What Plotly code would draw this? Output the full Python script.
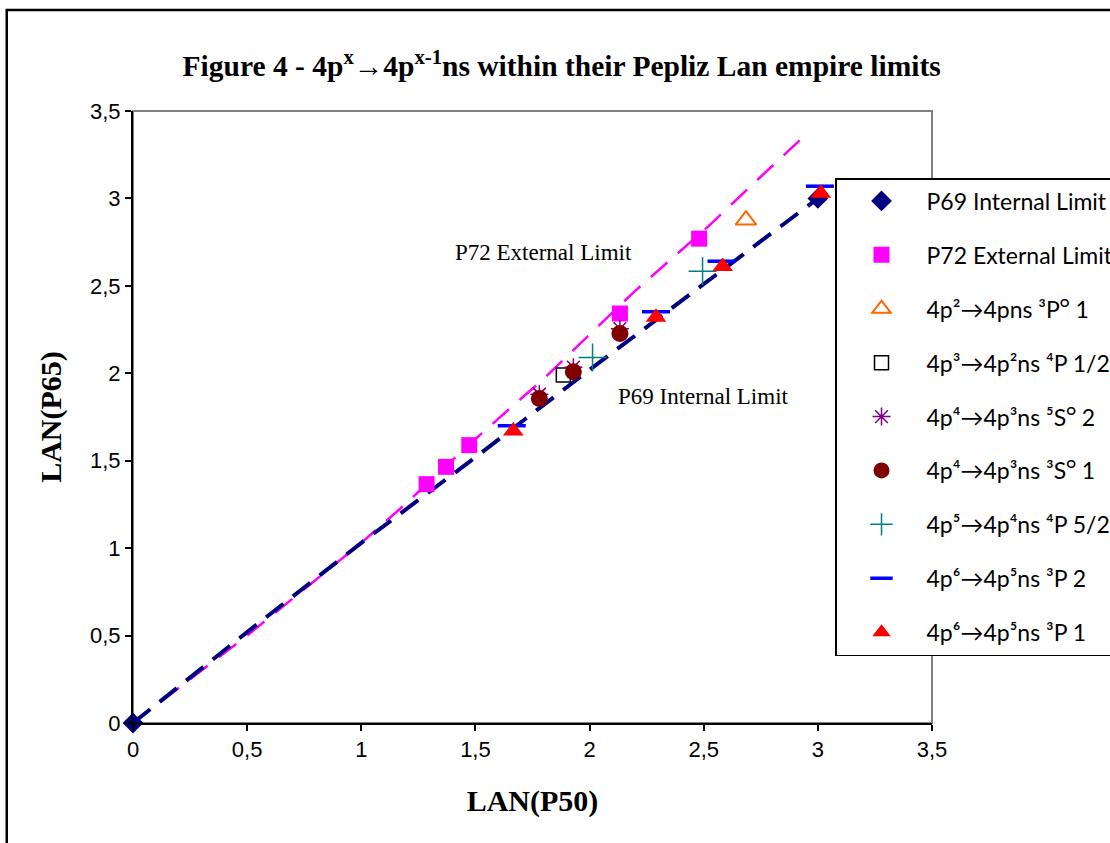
import plotly.graph_objects as go

# ---- data (LAN(P50) on x, LAN(P65) on y) ----
p69_line_x = [0, 0.5, 1.0, 1.5, 2.0, 2.5, 3.0]
p69_line_y = [0, 0.52, 1.03, 1.52, 2.02, 2.51, 3.0]

p72_line_x = [0, 0.5, 1.0, 1.2, 1.47, 1.8, 2.19, 2.52, 2.73, 2.96]
p72_line_y = [0, 0.5, 1.03, 1.26, 1.59, 1.97, 2.46, 2.84, 3.10, 3.38]

p69_x = [0, 3.0]
p69_y = [0, 3.0]

p72_x = [1.286, 1.371, 1.473, 2.133, 2.48]
p72_y = [1.366, 1.465, 1.589, 2.342, 2.77]

s_4p2_x = [2.685]
s_4p2_y = [2.876]

s_4p3_x = [1.885]
s_4p3_y = [1.99]

s_4p4_5s_x = [1.78, 1.929, 2.133]
s_4p4_5s_y = [1.88, 2.035, 2.255]

s_4p4_3s_x = [1.78, 1.929, 2.133]
s_4p4_3s_y = [1.856, 2.009, 2.228]

s_4p5_x = [2.013, 2.495]
s_4p5_y = [2.09, 2.584]

s_4p6_2_x = [1.659, 2.291, 2.578, 3.009]
s_4p6_2_y = [1.70, 2.352, 2.641, 3.07]

s_4p6_1_x = [1.666, 2.291, 2.583, 3.013]
s_4p6_1_y = [1.67, 2.32, 2.61, 3.03]

names = [
    "P69 Internal Limit",
    "P72 External Limit",
    "4p²→4pns ³Pᴼ 1",
    "4p³→4p²ns ⁴P 1/2",
    "4p⁴→4p³ns ⁵Sᴼ 2",
    "4p⁴→4p³ns ³Sᴼ 1",
    "4p⁵→4p⁴ns ⁴P 5/2",
    "4p⁶→4p⁵ns ³P 2",
    "4p⁶→4p⁵ns ³P 1",
]

serif = "Liberation Serif"
sans = "Liberation Sans"

fig = go.Figure()

# limit lines (not in legend)
fig.add_trace(go.Scatter(x=p72_line_x, y=p72_line_y, mode="lines",
                         line=dict(color="#FF00FF", width=2.5, dash="22px,14px"),
                         showlegend=False, hoverinfo="skip"))
fig.add_trace(go.Scatter(x=p69_line_x, y=p69_line_y, mode="lines",
                         line=dict(color="#000080", width=4, dash="22px,12px"),
                         showlegend=False, hoverinfo="skip"))

def pts(x, y, name, symbol, color, size, lw=0, lc=None, g=0):
    fig.add_trace(go.Scatter(
        x=x, y=y, mode="markers", name=name, legendgroup=f"g{g}",
        cliponaxis=False,
        marker=dict(symbol=symbol, color=color, size=size,
                    line=dict(width=lw, color=lc if lc else color)),
    ))

pts(p69_x, p69_y, names[0], "diamond", "#000080", 16, g=0)
pts(p72_x, p72_y, names[1], "square", "#FF00FF", 16, g=1)
pts(s_4p2_x, s_4p2_y, names[2], "triangle-up-open", "#FF6600", 18, lw=2, g=2)
pts(s_4p3_x, s_4p3_y, names[3], "square-open", "#000000", 14, lw=1.5, g=3)
pts(s_4p4_5s_x, s_4p4_5s_y, names[4], "asterisk-open", "#800080", 15, lw=1.5, g=4)
pts(s_4p4_3s_x, s_4p4_3s_y, names[5], "circle", "#800000", 17, g=5)
pts(s_4p5_x, s_4p5_y, names[6], "cross-thin-open", "#008080", 20, lw=1.5, g=6)
pts(s_4p6_2_x, s_4p6_2_y, names[7], "line-ew-open", "#0000FF", 20, lw=3.5, g=7)
pts(s_4p6_1_x, s_4p6_1_y, names[8], "triangle-up", "#FF0000", 18, g=8)

axis_common = dict(
    range=[0, 3.5], dtick=0.5, tick0=0,
    showline=True, linecolor="black", linewidth=2,
    ticks="outside", ticklen=6, tickwidth=1.5, tickcolor="black",
    showgrid=False, zeroline=False,
    tickfont=dict(family=sans, size=22, color="black"),
)

fig.update_layout(
    width=1110, height=843,
    margin=dict(l=133, r=178, t=111, b=120, autoexpand=False),
    paper_bgcolor="white", plot_bgcolor="white",
    separators=",.",
    title=dict(
        text="<b>Figure 4 - 4p<sup>x</sup>→4p<sup>x-1</sup>ns within their Pepliz Lan empire limits</b>",
        font=dict(family=serif, size=29.5, color="black"),
        x=0.506, xanchor="center", y=0.922, yanchor="middle",
    ),
    xaxis=dict(axis_common, title=dict(text="<b>LAN(P50)</b>",
               font=dict(family=serif, size=30, color="black"), standoff=29)),
    yaxis=dict(axis_common, title=dict(text="<b>LAN(P65)</b>",
               font=dict(family=serif, size=30, color="black"), standoff=20)),
    legend=dict(
        x=0.8786, xanchor="left", y=0.8905, yanchor="top",
        bgcolor="white", bordercolor="black", borderwidth=1.5,
        font=dict(family="Lato", size=23, color="black"),
        tracegroupgap=21, itemwidth=80,
    ),
    showlegend=True,
    shapes=[
        # plot-area frame
        dict(type="rect", xref="paper", yref="paper", x0=0, y0=0, x1=1, y1=1,
             line=dict(color="#808080", width=2), layer="below"),
        # outer chart frame
        dict(type="rect", xref="paper", yref="paper",
             x0=-0.158, y0=-0.4, x1=1.4, y1=1.165,
             line=dict(color="black", width=2.5), layer="below"),
    ],
    annotations=[
        dict(x=1.80, y=2.693, xref="x", yref="y", text="P72 External Limit",
             showarrow=False, font=dict(family=serif, size=23, color="black")),
        dict(x=2.497, y=1.870, xref="x", yref="y", text="P69 Internal Limit",
             showarrow=False, font=dict(family=serif, size=23, color="black")),
    ],
)

fig.write_html("out.html")
